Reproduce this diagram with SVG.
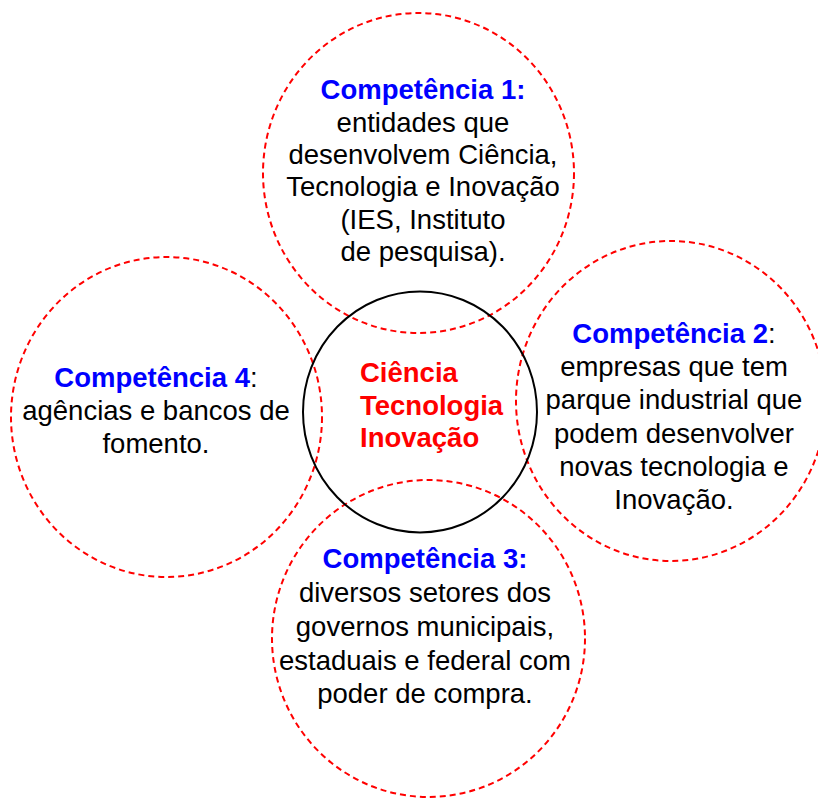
<svg xmlns="http://www.w3.org/2000/svg" width="818" height="798" viewBox="0 0 818 798">
<style>
.dash{fill:none;stroke:#FF0000;stroke-width:2;stroke-dasharray:6 4}
.core{fill:none;stroke:#000000;stroke-width:2}
text{font-family:"Liberation Sans",Arial,sans-serif;font-size:27.5px;text-anchor:middle;fill:#000000}
.h{font-weight:bold;fill:#0000FF}
.r{font-weight:bold;fill:#FF0000;text-anchor:start}
</style>
<rect x="0" y="0" width="818" height="798" fill="#FFFFFF"/>
<g id="connectors"></g>
<g id="competencia1">
<ellipse class="dash" cx="418.5" cy="173" rx="155.5" ry="160"/>
<text x="423" y="99" class="h">Competência 1:</text>
<text x="423" y="131.5">entidades que</text>
<text x="423" y="164">desenvolvem Ciência,</text>
<text x="423" y="196">Tecnologia e Inovação</text>
<text x="423" y="228.5">(IES, Instituto</text>
<text x="423" y="261">de pesquisa).</text>
</g>
<g id="competencia4">
<ellipse class="dash" cx="166.5" cy="417" rx="155.5" ry="160"/>
<text x="156" y="387"><tspan class="h">Competência 4</tspan>:</text>
<text x="156" y="420">agências e bancos de</text>
<text x="156" y="453">fomento.</text>
</g>
<g id="competencia2">
<ellipse class="dash" cx="671" cy="401" rx="155" ry="160"/>
<text x="674" y="343"><tspan class="h">Competência 2</tspan>:</text>
<text x="674" y="376">empresas que tem</text>
<text x="674" y="409">parque industrial que</text>
<text x="674" y="443">podem desenvolver</text>
<text x="674" y="476">novas tecnologia e</text>
<text x="674" y="509">Inovação.</text>
</g>
<g id="competencia3">
<ellipse class="dash" cx="428.5" cy="638.5" rx="156.5" ry="158.5"/>
<text x="425" y="568" class="h">Competência 3:</text>
<text x="425" y="602">diversos setores dos</text>
<text x="425" y="636">governos municipais,</text>
<text x="425" y="670">estaduais e federal com</text>
<text x="425" y="703">poder de compra.</text>
</g>
<g id="centro">
<ellipse class="core" cx="420" cy="412" rx="117" ry="120.5"/>
<text x="360" y="382" class="r">Ciência</text>
<text x="360" y="415" class="r">Tecnologia</text>
<text x="360" y="447" class="r">Inovação</text>
</g>
</svg>
